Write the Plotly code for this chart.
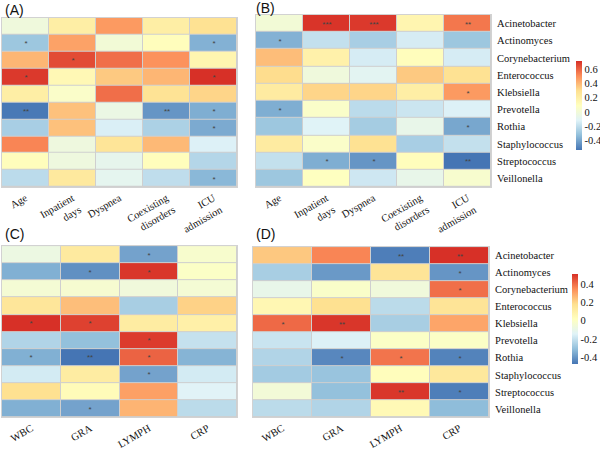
import plotly.graph_objects as go

genera = ["Acinetobacter", "Actinomyces", "Corynebacterium", "Enterococcus", "Klebsiella",
          "Prevotella", "Rothia", "Staphylococcus", "Streptococcus", "Veillonella"]
clin_labels = ["Age", "Inpatient<br>days", "Dyspnea", "Coexisting<br>disorders", "ICU<br>admission"]
lab_labels = ["WBC", "GRA", "LYMPH", "CRP"]

# Panel A (rows = genera, cols = clinical variables)
a_vals = [
    [-0.02, 0.20, 0.47, 0.20, 0.28],
    [-0.30, 0.45, 0.00, 0.10, -0.37],
    [0.40, 0.65, 0.57, 0.49, 0.15],
    [0.69, 0.13, 0.35, 0.40, 0.71],
    [0.20, 0.05, 0.57, 0.27, 0.32],
    [-0.53, 0.37, -0.05, -0.45, -0.38],
    [-0.27, 0.37, -0.14, -0.26, -0.39],
    [0.52, -0.03, 0.26, 0.39, -0.13],
    [0.10, -0.03, -0.08, 0.10, -0.24],
    [-0.22, 0.23, -0.09, -0.21, -0.35],
]
a_sig = [
    ["", "", "", "", ""],
    ["*", "", "", "", "*"],
    ["", "*", "", "", ""],
    ["*", "", "", "", "*"],
    ["", "", "", "", ""],
    ["**", "", "", "**", "*"],
    ["", "", "", "", "*"],
    ["", "", "", "", ""],
    ["", "", "", "", ""],
    ["", "", "", "", "*"],
]

# Panel B
b_vals = [
    [0.00, 0.70, 0.69, 0.15, 0.55],
    [-0.37, -0.20, -0.27, -0.15, -0.30],
    [0.38, 0.18, -0.15, 0.10, -0.15],
    [0.30, -0.02, -0.10, 0.35, 0.28],
    [0.22, 0.32, 0.32, 0.20, 0.47],
    [-0.38, 0.05, -0.22, -0.18, -0.13],
    [-0.30, -0.12, -0.28, -0.07, -0.40],
    [0.22, 0.05, 0.28, -0.27, -0.20],
    [-0.20, -0.38, -0.45, 0.10, -0.54],
    [-0.30, 0.08, -0.17, -0.07, 0.03],
]
b_sig = [
    ["", "***", "***", "", "**"],
    ["*", "", "", "", ""],
    ["", "", "", "", ""],
    ["", "", "", "", ""],
    ["", "", "", "", "*"],
    ["*", "", "", "", ""],
    ["", "", "", "", "*"],
    ["", "", "", "", ""],
    ["", "*", "*", "", "**"],
    ["", "", "", "", ""],
]

# Panel C (cols = WBC, GRA, LYMPH, CRP)
c_vals = [
    [-0.08, 0.13, -0.37, -0.02],
    [-0.34, -0.41, 0.50, 0.00],
    [-0.04, -0.03, -0.06, -0.04],
    [0.15, 0.25, -0.26, 0.21],
    [0.51, 0.48, 0.12, 0.10],
    [-0.24, -0.30, 0.49, -0.20],
    [-0.34, -0.47, 0.42, -0.33],
    [-0.17, 0.12, -0.37, -0.17],
    [0.18, 0.04, 0.31, -0.14],
    [-0.34, -0.37, 0.27, -0.22],
]
c_sig = [
    ["", "", "*", ""],
    ["", "*", "*", ""],
    ["", "", "", ""],
    ["", "", "", ""],
    ["*", "*", "", ""],
    ["", "", "*", ""],
    ["*", "**", "*", ""],
    ["", "", "*", ""],
    ["", "", "", ""],
    ["", "*", "", ""],
]

# Panel D
d_vals = [
    [0.23, 0.36, -0.45, 0.51],
    [-0.26, -0.39, 0.16, -0.40],
    [-0.10, -0.01, -0.06, 0.40],
    [0.06, 0.18, -0.22, 0.16],
    [0.41, 0.50, -0.26, 0.30],
    [-0.19, -0.15, 0.00, 0.00],
    [-0.24, -0.43, 0.39, -0.44],
    [-0.27, -0.29, 0.03, 0.14],
    [-0.05, -0.30, 0.50, -0.45],
    [-0.22, -0.24, 0.05, -0.31],
]
d_sig = [
    ["", "", "**", "**"],
    ["", "", "", "*"],
    ["", "", "", "*"],
    ["", "", "", ""],
    ["*", "**", "", ""],
    ["", "", "", ""],
    ["", "*", "*", "*"],
    ["", "", "", ""],
    ["", "", "**", "*"],
    ["", "", "", ""],
]

ab_range = (-0.54, 0.71)
cd_range = (-0.47, 0.51)
ab_ticks = [-0.4, -0.2, 0, 0.2, 0.4, 0.6]
cd_ticks = [-0.4, -0.2, 0, 0.2, 0.4]

scale = [[0, "#4575B4"], [1/6, "#91BFDB"], [2/6, "#E0F3F8"], [0.5, "#FFFFBF"],
         [4/6, "#FEE090"], [5/6, "#FC8D59"], [1, "#D73027"]]

W, H = 600, 450
SERIF = "Liberation Serif"
SANS = "Liberation Sans"

def dom_x(a, b):
    return [a / W, b / W]

def dom_y(top, bottom):
    return [1 - bottom / H, 1 - top / H]

fig = go.Figure()

panels = [
    (a_vals, a_sig, clin_labels, "x", "y", "coloraxis"),
    (b_vals, b_sig, clin_labels, "x2", "y2", "coloraxis"),
    (c_vals, c_sig, lab_labels, "x3", "y3", "coloraxis2"),
    (d_vals, d_sig, lab_labels, "x4", "y4", "coloraxis2"),
]
for vals, sig, cols, xa, ya, ca in panels:
    fig.add_trace(go.Heatmap(
        z=vals, x=cols, y=genera, text=sig, texttemplate="%{text}",
        textfont=dict(size=8, color="#444444", family=SANS),
        xaxis=xa, yaxis=ya, coloraxis=ca, xgap=1, ygap=1,
        hoverinfo="skip",
    ))

axfont = dict(family=SERIF, size=10.5, color="#111111")

layout_axes = {
    "xaxis": dict(domain=dom_x(2, 237), anchor="y"),
    "yaxis": dict(domain=dom_y(18, 190), anchor="x", showticklabels=False),
    "xaxis2": dict(domain=dom_x(256, 491), anchor="y2"),
    "yaxis2": dict(domain=dom_y(15, 190), anchor="x2", side="right", showticklabels=True),
    "xaxis3": dict(domain=dom_x(2, 237), anchor="y3"),
    "yaxis3": dict(domain=dom_y(250, 424), anchor="x3", showticklabels=False),
    "xaxis4": dict(domain=dom_x(253, 489), anchor="y4"),
    "yaxis4": dict(domain=dom_y(251, 424), anchor="x4", side="right", showticklabels=True),
}
for k, v in layout_axes.items():
    common = dict(tickfont=axfont, showgrid=False, zeroline=False, ticks="",
                  showline=True, mirror=True, linecolor="#d2d2d2", linewidth=1)
    if k.startswith("x"):
        v.update(common)
    else:
        v.update(common, autorange="reversed", ticklabelstandoff=3)
fig.update_layout(**layout_axes)
fig.update_xaxes(tickangle=-30)

cb_common = dict(thickness=6, outlinewidth=0, ticks="", xanchor="left", xpad=0, ypad=0,
                 tickfont=dict(family=SERIF, size=10.5, color="#111111"), lenmode="pixels")
fig.update_layout(
    coloraxis=dict(colorscale=scale, cmin=ab_range[0], cmax=ab_range[1],
                   colorbar=dict(x=576 / W, y=1 - 107.5 / H, yanchor="middle", len=89,
                                 tickvals=ab_ticks, ticktext=[str(t) for t in ab_ticks], **cb_common)),
    coloraxis2=dict(colorscale=scale, cmin=cd_range[0], cmax=cd_range[1],
                    colorbar=dict(x=572 / W, y=1 - 324 / H, yanchor="middle", len=90,
                                  tickvals=cd_ticks, ticktext=[str(t) for t in cd_ticks], **cb_common)),
)

titles = [("(A)", 3, 10), ("(B)", 254, 8), ("(C)", 3, 238), ("(D)", 254, 238)]
for t, x, y in titles:
    fig.add_annotation(text=t, x=x / W, y=1 - y / H, xref="paper", yref="paper",
                       xanchor="left", yanchor="middle", showarrow=False,
                       font=dict(family=SANS, size=14, color="#111111"))

fig.update_layout(width=W, height=H, margin=dict(l=0, r=0, t=0, b=0),
                  paper_bgcolor="white", plot_bgcolor="#cfcfcf", showlegend=False)

fig.write_html("out.html", config={"displayModeBar": False},
               post_script="document.body.style.margin='0';document.body.style.overflow='hidden';")
